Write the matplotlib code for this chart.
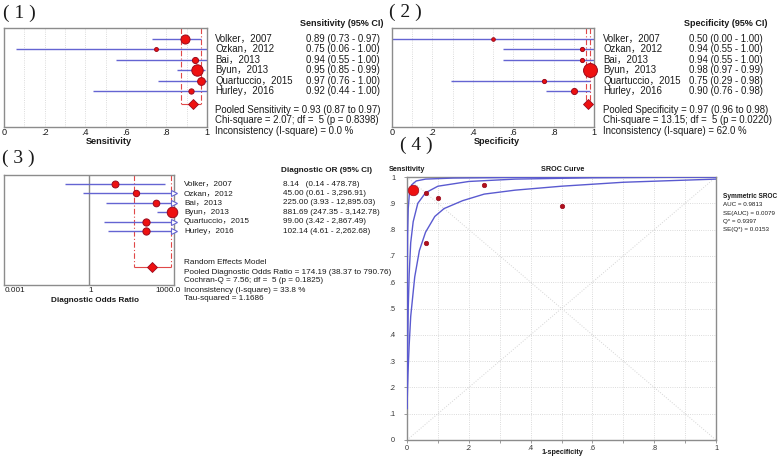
import matplotlib
matplotlib.use("Agg")
import matplotlib.pyplot as plt
import matplotlib.transforms as mtransforms
import numpy as np

plt.rcParams["font.family"] = ["Liberation Sans", "Noto Sans CJK SC", "DejaVu Sans"]

# ---- data -------------------------------------------------------------------
STUDIES = ["Volker，2007", "Ozkan，2012", "Bai，2013", "Byun，2013",
           "Quartuccio，2015", "Hurley，2016"]

SENS = [0.89, 0.75, 0.94, 0.95, 0.97, 0.92]
SENS_LO = [0.73, 0.06, 0.55, 0.85, 0.76, 0.44]
SENS_HI = [0.97, 1.00, 1.00, 0.99, 1.00, 1.00]
SENS_POOLED = [0.93, 0.87, 0.97]

SPEC = [0.50, 0.94, 0.94, 0.98, 0.75, 0.90]
SPEC_LO = [0.00, 0.55, 0.55, 0.97, 0.29, 0.76]
SPEC_HI = [1.00, 1.00, 1.00, 0.99, 0.98, 0.98]
SPEC_POOLED = [0.97, 0.96, 0.98]

DOR = [8.14, 45.00, 225.00, 881.69, 99.00, 102.14]
DOR_LO = [0.14, 0.61, 3.93, 247.35, 3.42, 4.61]
DOR_HI = [478.78, 3296.91, 12895.03, 3142.78, 2867.49, 2262.68]
DOR_POOLED = [174.19, 38.37, 790.76]

PROP_TICKS = [0, 0.2, 0.4, 0.6, 0.8, 1.0]
PROP_TICKLABELS = ["0", ".2", ".4", ".6", ".8", "1"]
SROC_YLABELS = ["0", ".1", ".2", ".3", ".4", ".5", ".6", ".7", ".8", ".9", "1"]

# SROC curves, points (1-specificity, sensitivity)
SROC_UPPER_X = [0.0, 0.001, 0.002, 0.004, 0.008, 0.015, 0.03, 0.06, 0.15, 0.4, 1.0]
SROC_UPPER_Y = [0.12, 0.6, 0.78, 0.88, 0.94, 0.97, 0.985, 0.992, 0.996, 0.999, 1.0]
SROC_MID_X = [0.0, 0.001, 0.002, 0.004, 0.007, 0.012, 0.02, 0.035, 0.06, 0.1,
              0.2, 0.35, 0.6, 1.0]
SROC_MID_Y = [0.12, 0.2, 0.33, 0.5, 0.63, 0.75, 0.83, 0.9, 0.94, 0.965,
              0.983, 0.992, 0.997, 1.0]
SROC_LOW_X = [0.0, 0.001, 0.003, 0.007, 0.012, 0.025, 0.04, 0.06, 0.09, 0.12, 0.18,
              0.25, 0.35, 0.5, 0.7, 1.0]
SROC_LOW_Y = [0.12, 0.16, 0.25, 0.36, 0.47, 0.62, 0.72, 0.79, 0.85, 0.88, 0.91,
              0.935, 0.95, 0.965, 0.98, 0.992]

SROC_STATS = ["AUC = 0.9813", "SE(AUC) = 0.0079", "Q* = 0.9397", "SE(Q*) = 0.0153"]

# ---- style ------------------------------------------------------------------
W, H = 778, 457
CI_BLUE = "#6464d2"
RED = "#ee1111"
DARKRED = "#9a0a1e"
RED_LINE = "#e04848"
SPINE = "#8c8c8c"
GRID = "#cfcfcf"
TXT = "#1a1a1a"
FS1 = 6.9   # panels 1 and 2
FS3 = 5.9   # panel 3
FS4 = 5.2   # panel 4
DASHDOT = (0, (5, 2, 1, 2))

MS_SENS = [6.5, 2.8, 4.4, 8.2, 5.6, 3.8]
MS_SPEC = [2.6, 3.0, 3.0, 10.0, 3.0, 4.4]
MS_DOR = [5.0, 4.6, 4.8, 7.6, 5.2, 5.2]
MS_SROC = [3.2, 3.2, 3.2, 7.6, 3.2, 3.2]


def box(x0, y0, x1, y1):
    return [x0 / W, 1 - y1 / H, (x1 - x0) / W, (y1 - y0) / H]


def ftext(x, y, s, **kw):
    kw.setdefault("fontsize", FS1)
    kw.setdefault("va", "center")
    kw.setdefault("color", TXT)
    fig.text(x / W, 1 - y / H, s, **kw)


def frame(ax):
    for sp in ax.spines.values():
        sp.set_color(SPINE)
        sp.set_linewidth(1.0)
    ax.set_yticks([])


def forest(ax, est, lo, hi, pooled, sizes, top, bottom, prow, xmax=None):
    rows = np.arange(len(est))
    for r, e, l, h, s in zip(rows, est, lo, hi, sizes):
        hh = h if xmax is None else min(h, xmax)
        ax.plot([l, hh], [r, r], color=CI_BLUE, lw=1.0, zorder=2, solid_capstyle="butt")
        if xmax is not None and h > xmax:
            ax.plot(xmax, r, marker=">", ms=5, mfc="white", mec=CI_BLUE, mew=0.8,
                    zorder=3, clip_on=False)
        ax.plot(e, r, "o", ms=s, mfc=RED, mec=DARKRED, mew=0.7, zorder=4, clip_on=False)
    pe, pl, ph = pooled
    ax.vlines([pl, ph], top, prow, colors=RED_LINE, linestyles=[DASHDOT], lw=0.8, zorder=1)
    ax.hlines(prow, pl, ph, colors=RED_LINE, lw=0.8, zorder=1)
    ax.plot(pe, prow, "D", ms=4.6, mfc=RED, mec=DARKRED, mew=0.6, zorder=4)
    ax.set_ylim(bottom, top)
    frame(ax)


def prop_axis(ax):
    ax.set_xlim(0, 1)
    for g in np.arange(0.1, 1.0, 0.1):
        ax.axvline(g, color=GRID, lw=0.6, ls=":", zorder=0)
    ax.set_xticks(PROP_TICKS)
    ax.set_xticklabels(PROP_TICKLABELS)
    ax.tick_params(axis="x", length=0, pad=0.5, labelsize=FS1 - 0.3, colors=TXT)


fig = plt.figure(figsize=(W / 100, H / 100), dpi=100)

# ---- (1) sensitivity --------------------------------------------------------
ax1 = fig.add_axes(box(4, 28, 207, 127))
forest(ax1, SENS, SENS_LO, SENS_HI, SENS_POOLED, MS_SENS, -1.06, 8.46, 6.25)
prop_axis(ax1)

tr1 = mtransforms.blended_transform_factory(fig.transFigure, ax1.transData)
for i, name in enumerate(STUDIES):
    fig.text(215 / W, i, name, transform=tr1, fontsize=FS1, va="center", color=TXT)
    fig.text(306 / W, i, f"{SENS[i]:.2f} ({SENS_LO[i]:.2f} - {SENS_HI[i]:.2f})",
             transform=tr1, fontsize=FS1, va="center", color=TXT)
ftext(383, 24, "Sensitivity (95% CI)", ha="right", fontweight="bold", fontsize=FS1 - 0.4)
ftext(215, 110, "Pooled Sensitivity = 0.93 (0.87 to 0.97)")
ftext(215, 120, "Chi-square = 2.07; df =  5 (p = 0.8398)")
ftext(215, 131, "Inconsistency (I-square) = 0.0 %")
ftext(109, 142, "Sensitivity", ha="center", fontweight="bold", fontsize=FS1 - 0.3)
ftext(3, 13, "( 1 )", family="Liberation Serif", fontsize=14)

# ---- (2) specificity --------------------------------------------------------
ax2 = fig.add_axes(box(392, 28, 594, 127))
forest(ax2, SPEC, SPEC_LO, SPEC_HI, SPEC_POOLED, MS_SPEC, -1.06, 8.46, 6.25)
prop_axis(ax2)

tr2 = mtransforms.blended_transform_factory(fig.transFigure, ax2.transData)
for i, name in enumerate(STUDIES):
    fig.text(603 / W, i, name, transform=tr2, fontsize=FS1, va="center", color=TXT)
    fig.text(689 / W, i, f"{SPEC[i]:.2f} ({SPEC_LO[i]:.2f} - {SPEC_HI[i]:.2f})",
             transform=tr2, fontsize=FS1, va="center", color=TXT)
ftext(767, 23, "Specificity (95% CI)", ha="right", fontweight="bold", fontsize=FS1 - 0.4)
ftext(603, 110, "Pooled Specificity = 0.97 (0.96 to 0.98)")
ftext(603, 120, "Chi-square = 13.15; df =  5 (p = 0.0220)")
ftext(603, 131, "Inconsistency (I-square) = 62.0 %")
ftext(497, 142, "Specificity", ha="center", fontweight="bold", fontsize=FS1 - 0.3)
ftext(389, 12, "( 2 )", family="Liberation Serif", fontsize=14)

# ---- (3) diagnostic odds ratio ---------------------------------------------
ax3 = fig.add_axes(box(4, 175, 174, 285))
ax3.set_xscale("log")
ax3.set_xlim(0.001, 1000)
ax3.axvline(1, color="#8a8a8a", lw=1.0, zorder=0)
forest(ax3, DOR, DOR_LO, DOR_HI, DOR_POOLED, MS_DOR, -0.96, 10.7, 8.8, xmax=1000)
ax3.set_xticks([])
ax3.minorticks_off()
ftext(5, 290, "0.001", fontsize=FS3)
ftext(91, 290, "1", ha="center", fontsize=FS3)
ftext(181, 290, "1000.0", ha="right", fontsize=FS3)
ftext(95, 300, "Diagnostic Odds Ratio", ha="center", fontweight="bold", fontsize=FS3)

tr3 = mtransforms.blended_transform_factory(fig.transFigure, ax3.transData)
for i, name in enumerate(STUDIES):
    v = f"{DOR[i]:.2f}"
    pad = " " * (1 + 2 * max(0, 5 - len(v)))
    fig.text(184 / W, i, name, transform=tr3, fontsize=FS3, va="center", color=TXT)
    fig.text(283 / W, i, f"{v}{pad}({DOR_LO[i]:,.2f} - {DOR_HI[i]:,.2f})",
             transform=tr3, fontsize=FS3, va="center", color=TXT)
ftext(372, 171, "Diagnostic OR (95% CI)", ha="right", fontweight="bold", fontsize=FS3)
pooled_lines = [
    "Random Effects Model",
    "Pooled Diagnostic Odds Ratio = 174.19 (38.37 to 790.76)",
    "Cochran-Q = 7.56; df =  5 (p = 0.1825)",
    "Inconsistency (I-square) = 33.8 %",
    "Tau-squared = 1.1686",
]
for k, s in enumerate(pooled_lines):
    ftext(184, 263 + 9 * k, s, fontsize=FS3)
ftext(2, 158, "( 3 )", family="Liberation Serif", fontsize=14)

# ---- (4) SROC ---------------------------------------------------------------
ax4 = fig.add_axes(box(407, 177, 716, 440))
ax4.set_xlim(0, 1)
ax4.set_ylim(0, 1)
ticks10 = np.round(np.arange(0, 1.01, 0.1), 1)
ax4.set_xticks(ticks10)
ax4.set_xticklabels([PROP_TICKLABELS[i // 2] if i % 2 == 0 else "" for i in range(11)])
ax4.set_yticks(ticks10)
ax4.set_yticklabels(SROC_YLABELS)
ax4.tick_params(length=2.5, width=0.6, color=SPINE, labelsize=FS4, labelcolor="#333333")
ax4.tick_params(axis="x", pad=1)
ax4.tick_params(axis="y", pad=6)
ax4.grid(True, color=GRID, lw=0.6, ls=":")
ax4.plot([0, 1], [0, 1], color="#d4d4d4", lw=0.7, ls=":", zorder=1)
ax4.plot([0, 1], [1, 0], color="#d4d4d4", lw=0.7, ls=":", zorder=1)
for sp in ax4.spines.values():
    sp.set_color(SPINE)
    sp.set_linewidth(1.0)
for cx, cy in ((SROC_UPPER_X, SROC_UPPER_Y), (SROC_MID_X, SROC_MID_Y),
               (SROC_LOW_X, SROC_LOW_Y)):
    ax4.plot(cx, cy, color="#5a5ad0", lw=1.0, zorder=3)
fpr = [1 - s for s in SPEC]
for x, y, s in zip(fpr, SENS, MS_SROC):
    ax4.plot(x, y, "o", ms=s, mfc=RED if s > 5 else "#b0101c", mec=DARKRED, mew=0.5,
             zorder=4)
ftext(389, 170, "Sensitivity", fontweight="bold", fontsize=FS4)
ftext(563, 170, "SROC Curve", ha="center", fontweight="bold", fontsize=FS4)
ftext(562, 452, "1-specificity", ha="center", fontweight="bold", fontsize=FS4)
ftext(723, 196, "Symmetric SROC", fontweight="bold", fontsize=4.7)
for k, s in enumerate(SROC_STATS):
    ftext(723, 205 + 8 * k, s, fontsize=4.5)
ftext(400, 145, "( 4 )", family="Liberation Serif", fontsize=14)

fig.savefig("out.png", dpi=100, facecolor="white")
